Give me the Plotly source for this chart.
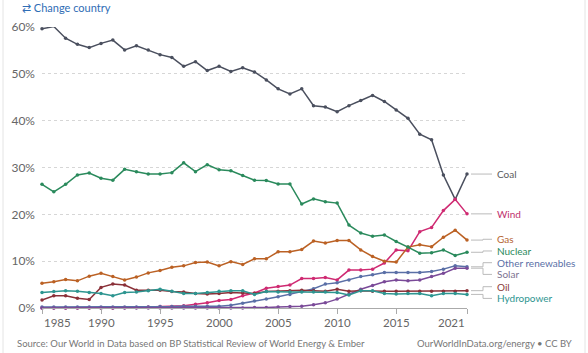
import plotly.graph_objects as go

years = list(range(1985, 2022))

coal = [59.6, 60.1, 57.6, 56.3, 55.6, 56.5, 57.2, 55.1, 56.0, 55.1,
        54.1, 53.5, 51.6, 52.6, 50.7, 51.6, 50.5, 51.3, 50.4, 48.7,
        46.8, 45.7, 46.8, 43.2, 42.9, 41.9, 43.2, 44.3, 45.4, 44.1,
        42.3, 40.5, 37.1, 35.9, 28.4, 23.2, 28.6]
wind = [0.0, 0.0, 0.0, 0.0, 0.0, 0.0, 0.0, 0.05, 0.1, 0.2,
        0.3, 0.3, 0.5, 0.8, 1.1, 1.6, 1.8, 2.6, 3.2, 4.2,
        4.6, 4.9, 6.3, 6.3, 6.5, 6.0, 8.1, 8.1, 8.3, 9.6,
        12.4, 12.2, 16.3, 17.2, 20.8, 23.2, 20.1]
gas = [5.3, 5.6, 6.1, 5.8, 6.8, 7.4, 6.7, 6.0, 6.6, 7.5,
       8.0, 8.7, 9.0, 9.7, 9.8, 9.0, 9.9, 9.3, 10.5, 10.5,
       12.0, 12.0, 12.5, 14.3, 13.9, 14.4, 14.4, 12.4, 11.0, 10.0,
       9.8, 13.0, 13.5, 13.1, 15.1, 16.6, 14.5]
nuclear = [26.4, 24.8, 26.4, 28.4, 28.8, 27.7, 27.3, 29.6, 29.1, 28.6,
           28.6, 28.9, 31.0, 29.1, 30.6, 29.5, 29.3, 28.3, 27.3, 27.2,
           26.5, 26.5, 22.2, 23.3, 22.7, 22.4, 17.7, 16.0, 15.3, 15.6,
           14.2, 13.0, 11.7, 11.8, 12.4, 11.2, 11.9]
other_renewables = [0.2, 0.2, 0.2, 0.2, 0.2, 0.2, 0.2, 0.2, 0.2, 0.2,
                    0.3, 0.3, 0.4, 0.4, 0.4, 0.4, 0.6, 1.0, 1.5, 1.9,
                    2.4, 2.9, 3.5, 4.1, 5.1, 5.4, 6.0, 6.7, 7.1, 7.6,
                    7.6, 7.6, 7.6, 7.8, 8.3, 9.0, 8.8]
solar = [0.0, 0.0, 0.0, 0.0, 0.0, 0.0, 0.0, 0.0, 0.0, 0.0,
         0.0, 0.0, 0.0, 0.0, 0.0, 0.0, 0.0, 0.0, 0.1, 0.1,
         0.2, 0.3, 0.4, 0.7, 1.1, 1.9, 3.0, 4.0, 4.8, 5.6,
         6.0, 5.8, 6.0, 6.7, 7.4, 8.5, 8.5]
oil = [1.7, 2.6, 2.6, 2.1, 1.8, 4.4, 5.1, 4.9, 3.8, 3.8,
       3.8, 3.5, 3.4, 3.1, 3.0, 3.1, 3.3, 3.2, 3.1, 3.5,
       3.6, 3.7, 3.8, 3.7, 3.6, 4.0, 3.6, 3.7, 3.6, 3.6,
       3.6, 3.6, 3.6, 3.6, 3.6, 3.6, 3.7]
hydropower = [3.3, 3.5, 3.7, 3.6, 3.3, 3.1, 2.6, 3.3, 3.4, 3.7,
              4.0, 3.6, 3.1, 3.1, 3.3, 3.6, 3.7, 3.7, 2.9, 3.5,
              3.4, 3.4, 3.4, 3.4, 3.4, 3.3, 2.8, 3.7, 3.7, 3.1,
              3.0, 3.1, 3.1, 2.6, 3.1, 3.1, 2.9]

series_names = ["Coal", "Wind", "Gas", "Nuclear", "Other renewables", "Solar", "Oil", "Hydropower"]
series_values = [coal, wind, gas, nuclear, other_renewables, solar, oil, hydropower]
line_colors = ["#4a4f5e", "#cf2a72", "#bb6124", "#2a8a5c", "#5a6fa6", "#7a4a98", "#8a3038", "#2d9590"]
label_colors = ["#5b5b5b", "#c0306e", "#b5652f", "#2a8a5c", "#5a6fa6", "#7d7390", "#8a3a3a", "#2d9590"]

y_ticks = [0, 10, 20, 30, 40, 50, 60]
y_ticktext = ["0%", "10%", "20%", "30%", "40%", "50%", "60%"]
x_ticks = [1985, 1990, 1995, 2000, 2005, 2010, 2015, 2021]

source_text = "Source: Our World in Data based on BP Statistical Review of World Energy & Ember"
credit_text = "OurWorldInData.org/energy • CC BY"

W, H = 588, 353
ML, MR, MT, MB = 42, 121, 27, 45
PW = W - ML - MR
PH = H - MT - MB

def px_x(p):
    return (p - ML) / PW

def px_y(p):
    return 1 - (p - MT) / PH

FONT = "Lato, 'Open Sans', sans-serif"

fig = go.Figure()
for name, vals, col in zip(series_names, series_values, line_colors):
    fig.add_trace(go.Scatter(
        x=years, y=vals, name=name, mode="lines+markers",
        line=dict(color=col, width=1.5),
        marker=dict(color=col, size=3.5),
        cliponaxis=False, showlegend=False,
    ))

# label de-overlap
gap = 2.5
last = [v[-1] for v in series_values]
order = sorted(range(len(last)), key=lambda i: -last[i])
pos = [last[i] for i in order]
for _ in range(100):
    moved = False
    for k in range(len(pos) - 1):
        if pos[k] - pos[k + 1] < gap - 1e-9:
            mid = (pos[k] + pos[k + 1]) / 2
            pos[k] = mid + gap / 2
            pos[k + 1] = mid - gap / 2
            moved = True
    if not moved:
        break
label_y = {order[k]: pos[k] for k in range(len(order))}

x_start = px_x(471)
x_mid = px_x(483)
x_end = px_x(492)
x_text = px_x(495)

shapes = []
annotations = []
for i, name in enumerate(series_names):
    ly = label_y[i]
    dy = last[i]
    if abs(ly - dy) < 1e-6:
        path = f"M {x_start},{dy} L {x_end},{ly}"
    else:
        path = f"M {x_start},{dy} L {x_mid},{dy} L {x_mid},{ly} L {x_end},{ly}"
    shapes.append(dict(type="path", path=path, xref="paper", yref="y",
                       line=dict(color="#bbbbbb", width=1)))
    annotations.append(dict(x=x_text, y=ly, xref="paper", yref="y", text=name,
                            showarrow=False, xanchor="left", yanchor="middle",
                            font=dict(family=FONT, size=10, color=label_colors[i])))

for yr in x_ticks:
    anchor = "center"
    if yr == x_ticks[0]:
        anchor = "left"
    elif yr == x_ticks[-1]:
        anchor = "right"
    annotations.append(dict(x=yr, y=0, xref="x", yref="paper", yshift=-14, text=str(yr),
                            showarrow=False, xanchor=anchor, yanchor="middle",
                            font=dict(family=FONT, size=11.5, color="#666666")))

annotations.append(dict(x=px_x(20), y=px_y(7), xref="paper", yref="paper",
                        text="⇄ Change country", showarrow=False, xanchor="left", yanchor="middle",
                        font=dict(family=FONT, size=11, color="#2f6db5")))
annotations.append(dict(x=px_x(15), y=px_y(343), xref="paper", yref="paper",
                        text=source_text, showarrow=False, xanchor="left", yanchor="middle",
                        font=dict(family=FONT, size=9.5, color="#777777")))
annotations.append(dict(x=px_x(574), y=px_y(343), xref="paper", yref="paper",
                        text=credit_text, showarrow=False, xanchor="right", yanchor="middle",
                        font=dict(family=FONT, size=9.5, color="#777777")))

# container borders
for bx in (3, 585):
    shapes.append(dict(type="line", xref="paper", yref="paper",
                       x0=px_x(bx), x1=px_x(bx), y0=px_y(0), y1=px_y(H),
                       line=dict(color="#e4e4e4", width=1)))

fig.update_layout(
    width=W, height=H,
    margin=dict(l=ML, r=MR, t=MT, b=MB),
    paper_bgcolor="white", plot_bgcolor="white",
    font=dict(family=FONT),
    shapes=shapes, annotations=annotations,
    showlegend=False,
    xaxis=dict(range=[1985, 2021], tickvals=x_ticks, showticklabels=False,
               showgrid=False, zeroline=False, showline=True, linecolor="#aaaaaa",
               linewidth=1, ticks="outside", ticklen=5, tickcolor="#aaaaaa"),
    yaxis=dict(range=[0, 60], tickvals=y_ticks, ticktext=y_ticktext,
               showgrid=True, gridcolor="#d6d6d6", griddash="dot", gridwidth=1,
               zeroline=False, showline=False, ticks="",
               tickfont=dict(family=FONT, size=12, color="#666666"),
               ticklabelstandoff=6),
)

fig.write_html("out.html")
